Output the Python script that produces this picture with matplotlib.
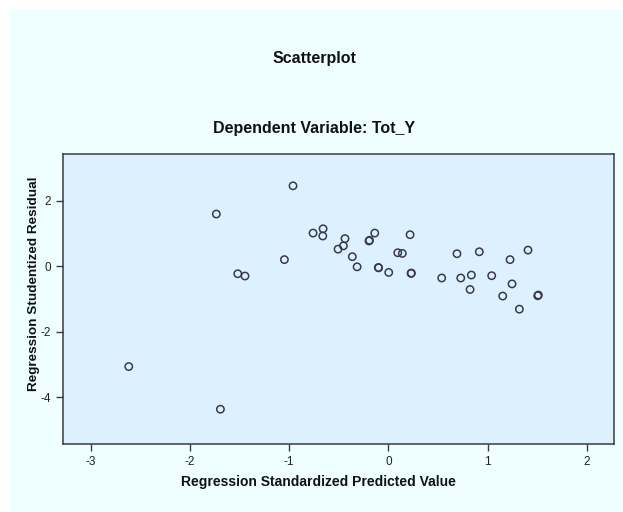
import matplotlib
matplotlib.use("Agg")
from matplotlib import pyplot as plt
from matplotlib.patches import Rectangle

# values
pred = [-0.961, -1.734, -0.759, -0.658, -0.661, -0.437, -0.453, -0.507, -0.363, -0.315,
        -1.048, -1.518, -1.445, -2.617, -1.693,
        -0.195, -0.190, -0.137, -0.101, -0.098, 0.004, 0.095, 0.141, 0.219, 0.229, 0.232,
        0.538, 0.692, 0.730, 0.837, 0.824, 0.917, 1.042, 1.153, 1.227, 1.247, 1.321,
        1.408, 1.512, 1.506]
resid = [2.45, 1.59, 1.01, 1.14, 0.92, 0.84, 0.62, 0.52, 0.29, -0.02,
         0.20, -0.23, -0.30, -3.06, -4.36,
         0.77, 0.79, 1.01, -0.04, -0.05, -0.19, 0.41, 0.39, 0.96, -0.22, -0.21,
         -0.36, 0.38, -0.36, -0.27, -0.71, 0.44, -0.29, -0.91, 0.20, -0.54, -1.31,
         0.49, -0.88, -0.90]
xticks = [-3, -2, -1, 0, 1, 2]
yticks = [2, 0, -2, -4]

font = ["Liberation Sans", "DejaVu Sans"]
plt.rcParams["font.family"] = font

fig = plt.figure(figsize=(6.23, 5.12), dpi=100)
fig.patch.set_facecolor("white")
fig.patches.append(Rectangle((10 / 623, 0), 1, 1 - 9 / 512, transform=fig.transFigure,
                             facecolor="#effefe", edgecolor="none", zorder=-10))

ax = fig.add_axes([63 / 623, 1 - 444 / 512, (614 - 63) / 623, (444 - 154) / 512])
ax.set_facecolor("#dcf1fd")
ax.scatter(pred, resid, s=28, facecolors="none", edgecolors="#3a3a48", linewidths=1.1, zorder=3)

ax.set_xlim(-3.28, 2.275)
ax.set_ylim(-5.42, 3.42)
ax.set_xticks(xticks)
ax.set_yticks(yticks)
ax.set_xticklabels([str(t) for t in xticks])
ax.set_yticklabels([str(t) for t in yticks])
ax.tick_params(direction="out", length=5, width=1, colors="#3a3a48", labelsize=8.5, labelcolor="#222222")
for s in ax.spines.values():
    s.set_color("#3a3a48")
    s.set_linewidth(1.1)

fig.text(314 / 623, 1 - 58 / 512, "Scatterplot", ha="center", va="center",
         fontsize=11.5, fontweight="bold", color="#111111")
fig.text(314 / 623, 1 - 129 / 512, "Dependent Variable: Tot_Y", ha="center", va="center",
         fontsize=11.5, fontweight="bold", color="#111111")
fig.text(318 / 623, 1 - 482 / 512, "Regression Standardized Predicted Value", ha="center", va="center",
         fontsize=10, fontweight="bold", color="#111111")
fig.text(34 / 623, 1 - 284 / 512, "Regression Studentized Residual", ha="center", va="center",
         rotation=90, fontsize=9.7, fontweight="bold", color="#111111")

fig.savefig("out.png", dpi=100)
